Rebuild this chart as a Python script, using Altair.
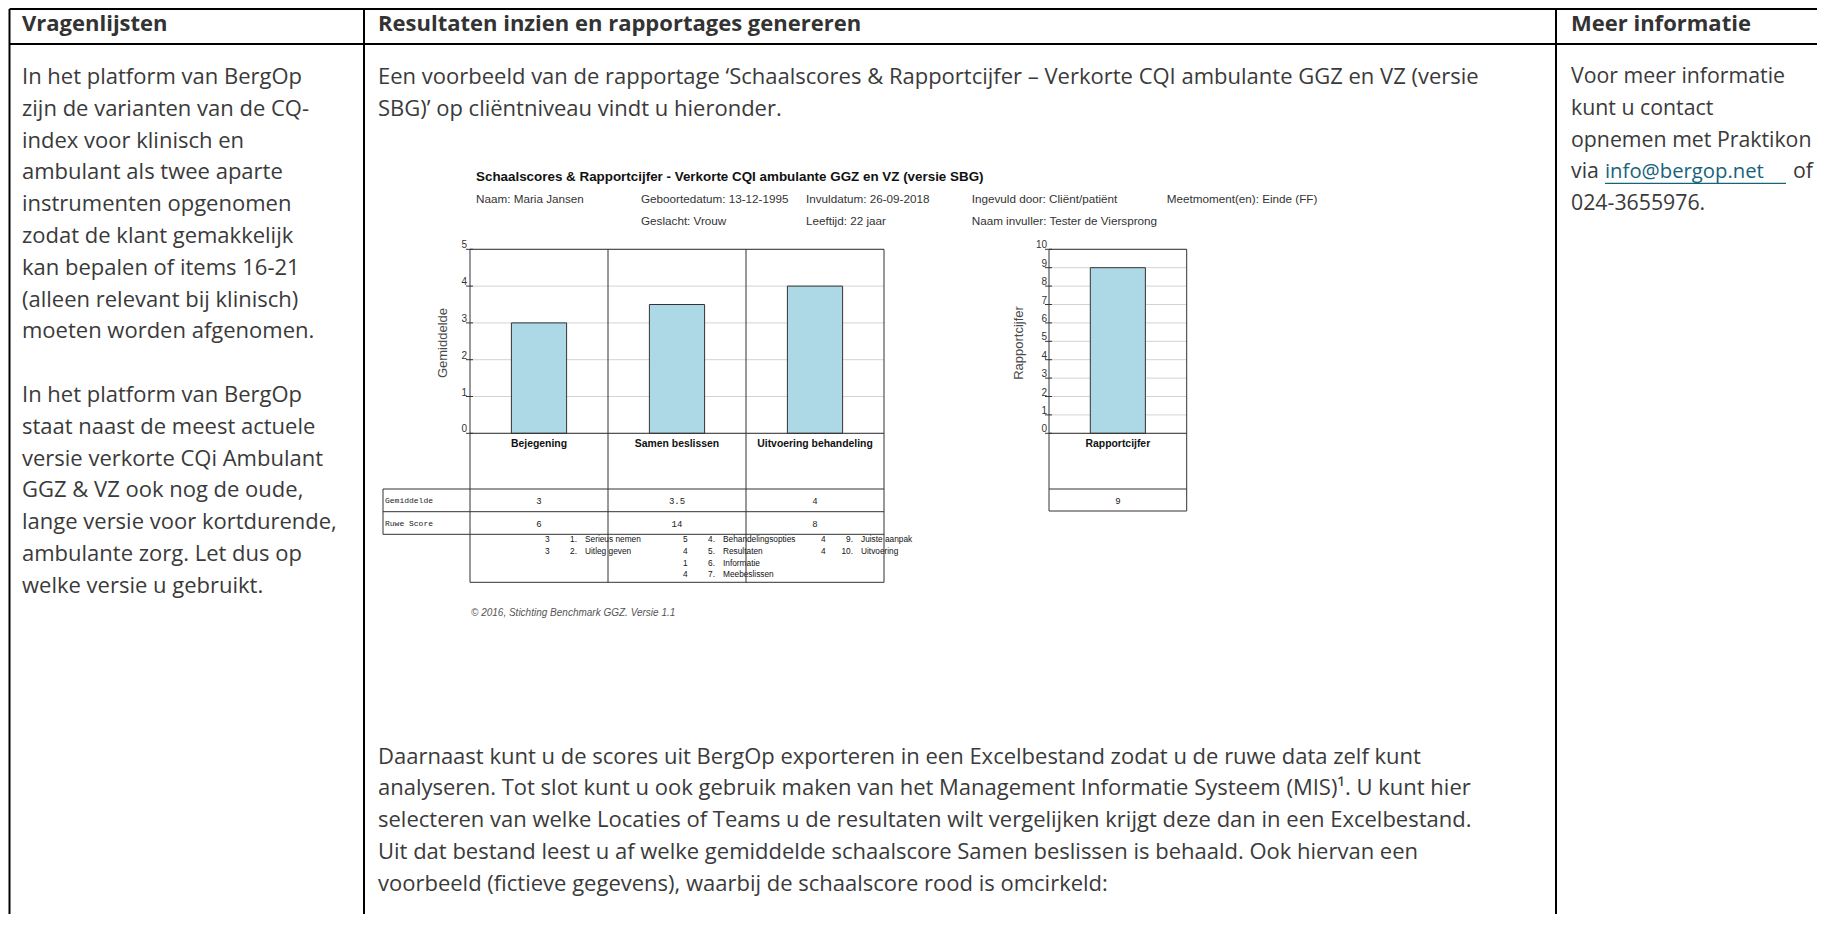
import altair as alt
import pandas as pd

# ---------------- content (values / texts) ----------------
header_titles = ["Vragenlijsten", "Resultaten inzien en rapportages genereren", "Meer informatie"]

col1_lines = [
    "In het platform van BergOp",
    "zijn de varianten van de CQ-",
    "index voor klinisch en",
    "ambulant als twee aparte",
    "instrumenten opgenomen",
    "zodat de klant gemakkelijk",
    "kan bepalen of items 16-21",
    "(alleen relevant bij klinisch)",
    "moeten worden afgenomen.",
    "",
    "In het platform van BergOp",
    "staat naast de meest actuele",
    "versie verkorte CQi Ambulant",
    "GGZ & VZ ook nog de oude,",
    "lange versie voor kortdurende,",
    "ambulante zorg. Let dus op",
    "welke versie u gebruikt.",
]

col2_top_lines = [
    "Een voorbeeld van de rapportage \u2018Schaalscores & Rapportcijfer \u2013 Verkorte CQI ambulante GGZ en VZ (versie",
    "SBG)\u2019 op cli\u00ebntniveau vindt u hieronder.",
]

col2_bottom_lines = [
    "Daarnaast kunt u de scores uit BergOp exporteren in een Excelbestand zodat u de ruwe data zelf kunt",
    "analyseren. Tot slot kunt u ook gebruik maken van het Management Informatie Systeem (MIS)\u00b9. U kunt hier",
    "selecteren van welke Locaties of Teams u de resultaten wilt vergelijken krijgt deze dan in een Excelbestand.",
    "Uit dat bestand leest u af welke gemiddelde schaalscore Samen beslissen is behaald. Ook hiervan een",
    "voorbeeld (fictieve gegevens), waarbij de schaalscore rood is omcirkeld:",
]

col3_lines = ["Voor meer informatie", "kunt u contact", "opnemen met Praktikon", "via", "024-3655976."]
link_text = "info@bergop.net"
link_after = "of"

report_title = "Schaalscores & Rapportcijfer - Verkorte CQI ambulante GGZ en VZ  (versie SBG)"
meta_row1 = ["Naam: Maria Jansen", "Geboortedatum: 13-12-1995", "Invuldatum: 26-09-2018",
             "Ingevuld door: Cli\u00ebnt/pati\u00ebnt", "Meetmoment(en):  Einde (FF)"]
meta_row2 = ["Geslacht: Vrouw", "Leeftijd: 22 jaar", "Naam invuller: Tester de Viersprong"]
copyright_text = "\u00a9 2016, Stichting Benchmark GGZ. Versie 1.1"

categories = ["Bejegening", "Samen beslissen", "Uitvoering behandeling"]
gemiddelde = [3, 3.5, 4]
ruwe_score = [6, 14, 8]
row_labels = ["Gemiddelde", "Ruwe Score"]
y_ticks_left = [0, 1, 2, 3, 4, 5]

rapport_category = ["Rapportcijfer"]
rapportcijfer = [9]
y_ticks_right = [0, 1, 2, 3, 4, 5, 6, 7, 8, 9, 10]

item_category = ["Bejegening", "Bejegening",
                 "Samen beslissen", "Samen beslissen", "Samen beslissen", "Samen beslissen",
                 "Uitvoering behandeling", "Uitvoering behandeling"]
item_scores = [3, 3, 5, 4, 1, 4, 4, 4]
item_numbers = ["1.", "2.", "4.", "5.", "6.", "7.", "9.", "10."]
item_names = ["Serieus nemen", "Uitleg geven", "Behandelingsopties", "Resultaten",
              "Informatie", "Meebeslissen", "Juiste aanpak", "Uitvoering"]

# ---------------- layout (page pixels, converted to plot coords) ----------------
M = 8
def P(v):
    return v - M

W, H = 1809, 906
DOC_FONT = "Open Sans"
DOC_SIZE = 22
COL3_SIZE = 21.3
DOC_COLOR = "#3a3a3a"
LINK_COLOR = "#17637a"
LINE0 = 77.0
LSP = 31.8
COL_X = [22, 378, 1571]
HEAD_Y = 24
TAB_TOP, TAB_HEAD = 9, 44
TAB_LEFT, DIV1, DIV2, TAB_RIGHT = 9.5, 364, 1556, 1830

CH_FONT = "Liberation Sans"
MONO = "Liberation Mono"
FRAME = "#333333"
GRID = "#d3d3d3"
BAR_FILL = "#ADD8E6"

LX0, LX1 = 470, 884
RX0, RX1 = 1049, 1186.7
YTOP, YBASE = 249.3, 433.3
ROW_LINES = [489, 511.7, 534.3]
ITEMS_BOTTOM = 582.3
LABEL_BOX_X = 383


def text_layer(df, **kw):
    return alt.Chart(df).mark_text(**kw).encode(
        x=alt.X("x:Q", scale=None, axis=None),
        y=alt.Y("y:Q", scale=None, axis=None),
        text="text:N",
    )


def rule_layer(df, color, width):
    return alt.Chart(df).mark_rule(color=color, strokeWidth=width).encode(
        x=alt.X("x1:Q", scale=None, axis=None), x2="x2:Q",
        y=alt.Y("y1:Q", scale=None, axis=None), y2="y2:Q",
    )


layers = []

# ---- outer document table ----
tab_lines = pd.DataFrame([
    dict(x1=P(TAB_LEFT), x2=P(TAB_RIGHT), y1=P(TAB_TOP), y2=P(TAB_TOP)),
    dict(x1=P(TAB_LEFT), x2=P(TAB_RIGHT), y1=P(TAB_HEAD), y2=P(TAB_HEAD)),
    dict(x1=P(TAB_LEFT), x2=P(TAB_LEFT), y1=P(TAB_TOP), y2=H),
    dict(x1=P(DIV1), x2=P(DIV1), y1=P(TAB_TOP), y2=H),
    dict(x1=P(DIV2), x2=P(DIV2), y1=P(TAB_TOP), y2=H),
])
layers.append(rule_layer(tab_lines, "#000000", 2))

heads = pd.DataFrame({"text": header_titles, "x": [P(v) for v in COL_X], "y": [P(HEAD_Y)] * 3})
layers.append(text_layer(heads, align="left", baseline="middle", font=DOC_FONT,
                         fontSize=DOC_SIZE, fontWeight="bold", color="#333333"))

def para(lines, x, y0):
    return pd.DataFrame({"text": lines,
                         "x": [P(x)] * len(lines),
                         "y": [P(y0 + i * LSP) for i in range(len(lines))]})

link_y = LINE0 + 3 * LSP
doc_text = pd.concat([
    para(col1_lines, COL_X[0], LINE0),
    para(col2_top_lines, COL_X[1], LINE0),
    para(col2_bottom_lines, COL_X[1], 756.6),
])
layers.append(text_layer(doc_text, align="left", baseline="middle", font=DOC_FONT,
                         fontSize=DOC_SIZE, color=DOC_COLOR))

col3_text = pd.concat([
    para(col3_lines, COL_X[2], LINE0),
    pd.DataFrame({"text": [link_after], "x": [P(1793)], "y": [P(link_y)]}),
])
layers.append(text_layer(col3_text, align="left", baseline="middle", font=DOC_FONT,
                         fontSize=COL3_SIZE, color=DOC_COLOR))

link_df = pd.DataFrame({"text": [link_text], "x": [P(1605)], "y": [P(link_y)]})
layers.append(text_layer(link_df, align="left", baseline="middle", font=DOC_FONT,
                         fontSize=20.3, color=LINK_COLOR))
underline = pd.DataFrame([dict(x1=P(1605), x2=P(1786), y1=P(link_y + 11), y2=P(link_y + 11))])
layers.append(rule_layer(underline, LINK_COLOR, 1.3))

# ---- embedded report: header texts ----
rt = pd.DataFrame({"text": [report_title], "x": [P(476)], "y": [P(177)]})
layers.append(text_layer(rt, align="left", baseline="middle", font=CH_FONT, fontSize=13.4,
                         fontWeight="bold", color="#111111"))
meta = pd.DataFrame({
    "text": meta_row1 + meta_row2,
    "x": [P(v) for v in [476, 641, 806, 971.7, 1166.7, 641, 806, 971.7]],
    "y": [P(199)] * 5 + [P(221)] * 3,
})
layers.append(text_layer(meta, align="left", baseline="middle", font=CH_FONT, fontSize=11.7,
                         color="#333333"))

cp = pd.DataFrame({"text": [copyright_text], "x": [P(471)], "y": [P(613.3)]})
layers.append(text_layer(cp, align="left", baseline="middle", font=CH_FONT, fontSize=10,
                         fontStyle="italic", color="#555555"))

# ---- scales for embedded charts ----
yL = alt.Scale(domain=[0, 5], range=[P(YBASE), P(YTOP)], nice=False, zero=False)
yR = alt.Scale(domain=[0, 10], range=[P(YBASE), P(YTOP)], nice=False, zero=False)
xL_bar = alt.Scale(domain=categories, range=[P(LX0), P(LX1)], paddingInner=0.6, paddingOuter=0.3)
xL_col = alt.Scale(domain=categories, range=[P(LX0), P(LX1)], paddingInner=0, paddingOuter=0)
xR_bar = alt.Scale(domain=rapport_category, range=[P(RX0), P(RX1)], paddingInner=0.6, paddingOuter=0.3)
xR_col = alt.Scale(domain=rapport_category, range=[P(RX0), P(RX1)], paddingInner=0, paddingOuter=0)

left_df = pd.DataFrame({"cat": categories, "gem": gemiddelde,
                        "gem_txt": [str(v) for v in gemiddelde],
                        "ruw_txt": [str(v) for v in ruwe_score]})
right_df = pd.DataFrame({"cat": rapport_category, "val": rapportcijfer,
                         "val_txt": [str(v) for v in rapportcijfer]})
ticksL = pd.DataFrame({"t": y_ticks_left})
ticksR = pd.DataFrame({"t": y_ticks_right})

# gridlines
layers.append(alt.Chart(ticksL).mark_rule(color=GRID, strokeWidth=1).encode(
    y=alt.Y("t:Q", scale=yL, axis=None), x=alt.value(P(LX0)), x2=alt.value(P(LX1))))
layers.append(alt.Chart(ticksR).mark_rule(color=GRID, strokeWidth=1).encode(
    y=alt.Y("t:Q", scale=yR, axis=None), x=alt.value(P(RX0)), x2=alt.value(P(RX1))))

# bars
layers.append(alt.Chart(left_df).mark_bar(fill=BAR_FILL, stroke=FRAME, strokeWidth=1).encode(
    x=alt.X("cat:N", scale=xL_bar, axis=None, sort=categories),
    y=alt.Y("gem:Q", scale=yL, axis=None)))
layers.append(alt.Chart(right_df).mark_bar(fill=BAR_FILL, stroke=FRAME, strokeWidth=1).encode(
    x=alt.X("cat:N", scale=xR_bar, axis=None),
    y=alt.Y("val:Q", scale=yR, axis=None)))

# tick marks and labels
layers.append(alt.Chart(ticksL).mark_rule(color=FRAME, strokeWidth=1).encode(
    y=alt.Y("t:Q", scale=yL, axis=None), x=alt.value(P(LX0 - 4)), x2=alt.value(P(LX0 + 3))))
layers.append(alt.Chart(ticksR).mark_rule(color=FRAME, strokeWidth=1).encode(
    y=alt.Y("t:Q", scale=yR, axis=None), x=alt.value(P(RX0 - 4)), x2=alt.value(P(RX0 + 3))))
layers.append(alt.Chart(ticksL).mark_text(align="right", baseline="middle", dy=-4, font=CH_FONT,
                                          fontSize=10, color="#333333").encode(
    y=alt.Y("t:Q", scale=yL, axis=None), x=alt.value(P(LX0 - 3)), text="t:Q"))
layers.append(alt.Chart(ticksR).mark_text(align="right", baseline="middle", dy=-4, font=CH_FONT,
                                          fontSize=10, color="#333333").encode(
    y=alt.Y("t:Q", scale=yR, axis=None), x=alt.value(P(RX0 - 2)), text="t:Q"))

# axis titles
ax_titles = pd.DataFrame({"text": ["Gemiddelde", "Rapportcijfer"],
                          "x": [P(443), P(1019.3)], "y": [P(343), P(343)]})
layers.append(text_layer(ax_titles, align="center", baseline="middle", angle=270, font=CH_FONT,
                         fontSize=13, color="#4a4a4a"))

# category labels
layers.append(alt.Chart(left_df).mark_text(baseline="middle", font=CH_FONT, fontSize=10.4,
                                           fontWeight="bold", color="#111111").encode(
    x=alt.X("cat:N", scale=xL_col, axis=None, bandPosition=0.5),
    y=alt.value(P(444)), text="cat:N"))
layers.append(alt.Chart(right_df).mark_text(baseline="middle", font=CH_FONT, fontSize=10.4,
                                            fontWeight="bold", color="#111111").encode(
    x=alt.X("cat:N", scale=xR_col, axis=None, bandPosition=0.5),
    y=alt.value(P(444)), text="cat:N"))

# table values
layers.append(alt.Chart(left_df).mark_text(baseline="middle", font=MONO, fontSize=9,
                                           color="#222222").encode(
    x=alt.X("cat:N", scale=xL_col, axis=None, bandPosition=0.5),
    y=alt.value(P(501)), text="gem_txt:N"))
layers.append(alt.Chart(left_df).mark_text(baseline="middle", font=MONO, fontSize=9,
                                           color="#222222").encode(
    x=alt.X("cat:N", scale=xL_col, axis=None, bandPosition=0.5),
    y=alt.value(P(524.3)), text="ruw_txt:N"))
layers.append(alt.Chart(right_df).mark_text(baseline="middle", font=MONO, fontSize=9,
                                            color="#222222").encode(
    x=alt.X("cat:N", scale=xR_col, axis=None, bandPosition=0.5),
    y=alt.value(P(500.7)), text="val_txt:N"))
rl = pd.DataFrame({"text": row_labels, "x": [P(385)] * 2, "y": [P(501), P(524.3)]})
layers.append(text_layer(rl, align="left", baseline="middle", font=MONO, fontSize=8,
                         color="#222222"))

# item list
items = pd.DataFrame({"cat": item_category, "score": [str(s) for s in item_scores],
                      "num": item_numbers, "name": item_names})
items["row"] = items.groupby("cat").cumcount()
yItem = alt.Scale(domain=[0, 3], range=[P(540), P(540 + 3 * 11.75)], nice=False, zero=False)
for field, align, dx in [("score", "left", 6), ("num", "right", 38), ("name", "left", 46)]:
    layers.append(alt.Chart(items).mark_text(align=align, baseline="middle", dx=dx, font=CH_FONT,
                                             fontSize=8.3, color="#111111").encode(
        x=alt.X("cat:N", scale=xL_col, axis=None, bandPosition=0),
        y=alt.Y("row:Q", scale=yItem, axis=None),
        text=f"{field}:N"))

# frames of the embedded charts
fr = []
fr += [dict(x1=P(LX0), x2=P(LX1), y1=P(YTOP), y2=P(YTOP)),
       dict(x1=P(LX0), x2=P(LX1), y1=P(YBASE), y2=P(YBASE)),
       dict(x1=P(LX0), x2=P(LX1), y1=P(ITEMS_BOTTOM), y2=P(ITEMS_BOTTOM))]
colw = (LX1 - LX0) / len(categories)
for i in range(len(categories) + 1):
    xx = LX0 + i * colw
    fr.append(dict(x1=P(xx), x2=P(xx), y1=P(YTOP), y2=P(ITEMS_BOTTOM)))
for yy in ROW_LINES:
    fr.append(dict(x1=P(LABEL_BOX_X), x2=P(LX1), y1=P(yy), y2=P(yy)))
fr.append(dict(x1=P(LABEL_BOX_X), x2=P(LABEL_BOX_X), y1=P(ROW_LINES[0]), y2=P(ROW_LINES[2])))
fr += [dict(x1=P(RX0), x2=P(RX1), y1=P(YTOP), y2=P(YTOP)),
       dict(x1=P(RX0), x2=P(RX1), y1=P(YBASE), y2=P(YBASE)),
       dict(x1=P(RX0), x2=P(RX1), y1=P(ROW_LINES[0]), y2=P(ROW_LINES[0])),
       dict(x1=P(RX0), x2=P(RX1), y1=P(ROW_LINES[1] - 0.7), y2=P(ROW_LINES[1] - 0.7)),
       dict(x1=P(RX0), x2=P(RX0), y1=P(YTOP), y2=P(ROW_LINES[1] - 0.7)),
       dict(x1=P(RX1), x2=P(RX1), y1=P(YTOP), y2=P(ROW_LINES[1] - 0.7))]
layers.append(rule_layer(pd.DataFrame(fr), FRAME, 1))

chart = alt.layer(*layers).resolve_scale(x="independent", y="independent").properties(
    width=W, height=H, padding=0, autosize="none", background="white"
).configure_view(stroke=None)

chart.save("out.html", embed_options={"renderer": "svg", "actions": False})
